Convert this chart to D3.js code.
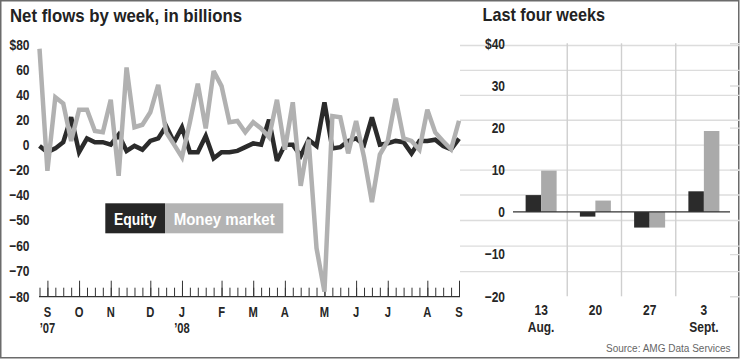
<!DOCTYPE html>
<html>
<head>
<meta charset="utf-8">
<script src="https://cdn.jsdelivr.net/npm/d3@7"></script>
<style>
  html, body { margin: 0; padding: 0; background: #fff; }
  svg { display: block; }
  .cond { font-family: "Liberation Sans", Arial, Helvetica, sans-serif; font-weight: bold; }
</style>
</head>
<body>
<svg id="chart" width="740" height="360"></svg>
<script>
// ---------- DATA ----------
// Weekly net flows (billions of dollars), Aug 29 2007 .. Sep 3 2008
const equity = [-1, -6, -3, 2, 22, -6, 5, 2, 2, 0,
                8, -5, -1, -4, 3, 5, 15, 2, 14, -6,
                -6, 7, -11, -6, -6, -5, -2, 1, 0, 20,
                -13, 0, 0, -9, 4, -1, 34, -3, -2, 3,
                5, 0, 22, 0, 1, 3, 2, -7, 3, 3,
                4, -1.1, -3.7, 4.9];
const moneyMarket = [77, -21, 38, 33, 3, 28, 28, 11, 10, 36,
                     -25, 62, 14, 16, 26, 48, 10, 0, -10, 18,
                     49, 13, 59, 47, 18, 19, 10, 18, 13, 6,
                     36, -4, 34, -33, 4, -61, -78, 23, 22, -7,
                     19, -10, -43, -8, 3, 37, 5, 3, -4, 28,
                     9.8, 2.7, -3.7, 19.2];
const monthLabels = ["S", "O", "N", "D", "J", "F", "M", "A", "M", "J", "J", "A", "S"];
const monthWeekIndex = [1, 5, 9, 14, 18, 23, 27, 31, 36, 40, 44, 49, 53];
const yearLabels = [{ month: 0, text: "\u201907" }, { month: 4, text: "\u201908" }];
const leftTicks = [80, 60, 40, 20, 0, -20, -40, -50, -60, -70, -80];

const recentWeeks = ["13", "20", "27", "3"];
const recentMonths = ["Aug.", "", "", "Sept."];
const recentEquity = [4.0, -1.1, -3.7, 4.9];
const recentMoney = [9.8, 2.7, -3.7, 19.2];
const rightTicks = [40, 30, 20, 10, 0, -10, -20];

const seriesNames = ["Equity", "Money market"];
const seriesColors = ["#2b2b2b", "#b1b1b1"];

// ---------- SETUP ----------
const svg = d3.select("#chart");
const SX = 0.8; // horizontal condensing of the bold face

function condText(parent, x, y, txt, size, anchor, fill, cls) {
  return parent.append("text").attr("class", "cond " + (cls || ""))
    .attr("transform", `translate(${x},${y}) scale(${SX},1)`)
    .attr("text-anchor", anchor || "start").attr("font-size", size)
    .attr("fill", fill || "#262626").text(txt);
}

svg.append("rect").attr("x", 0.75).attr("y", 0.75).attr("width", 738).attr("height", 357)
  .attr("fill", "#fff").attr("stroke", "#6b6b6b").attr("stroke-width", 1.5);

// Titles
svg.append("text").attr("class", "cond").attr("x", 10).attr("y", 21.5)
  .attr("font-size", 18.5).attr("fill", "#222")
  .attr("textLength", 232).attr("lengthAdjust", "spacingAndGlyphs")
  .text("Net flows by week, in billions");
svg.append("text").attr("class", "cond").attr("x", 482.5).attr("y", 20.7)
  .attr("font-size", 18.5).attr("fill", "#222")
  .attr("textLength", 122.5).attr("lengthAdjust", "spacingAndGlyphs")
  .text("Last four weeks");

// ---------- LEFT CHART ----------
const xL = d3.scaleLinear().domain([0, equity.length - 1]).range([39.5, 459]);
// Axis labels are evenly spaced: 20 per step above -40, 10 per step below
const yL = d3.scaleLinear().domain([-80, -40, 80]).range([296.7, 194.5, 45]);
const left = svg.append("g");

// gridlines
left.append("g").attr("transform", "translate(460,0)")
  .call(d3.axisLeft(yL).tickValues(leftTicks.filter(d => d !== -80)).tickSize(-(460 - 39)).tickFormat(""))
  .call(g => g.select(".domain").remove())
  .call(g => g.selectAll("line").attr("stroke", "#dcdcdc").attr("stroke-width", 1.4));

// y labels
left.append("g").attr("transform", "translate(29.5,0)")
  .call(d3.axisLeft(yL).tickValues(leftTicks).tickSize(0).tickPadding(0)
    .tickFormat(d => d === 80 ? "$80" : d3.format("d")(d)))
  .call(g => g.select(".domain").remove())
  .call(g => g.selectAll("text").attr("class", "cond").attr("font-size", 15)
    .attr("fill", "#262626").attr("transform", `scale(${SX},1)`));

// bottom axis with weekly ticks
const baseY = 296.7;
left.append("g").attr("transform", `translate(0,${baseY})`)
  .call(d3.axisBottom(xL).tickValues(d3.range(equity.length)).tickSize(-9).tickFormat(""))
  .call(g => g.select(".domain").remove())
  .call(g => g.selectAll("line").attr("stroke", "#333").attr("stroke-width", 1));
left.append("g").attr("transform", `translate(0,${baseY})`)
  .call(d3.axisBottom(xL).tickValues(monthWeekIndex).tickSize(-16).tickFormat(""))
  .call(g => g.select(".domain").remove())
  .call(g => g.selectAll("line").attr("stroke", "#333").attr("stroke-width", 1));
left.append("line").attr("x1", 39).attr("x2", 460).attr("y1", baseY).attr("y2", baseY)
  .attr("stroke", "#333").attr("stroke-width", 1.2);

monthLabels.forEach((m, i) => condText(left, xL(monthWeekIndex[i]), 316.7, m, 14, "middle"));
yearLabels.forEach(d => condText(left, xL(monthWeekIndex[d.month]), 332.7, d.text, 14, "middle"));

// lines
const line = d3.line().x((d, i) => xL(i)).y(d => yL(d));
[equity, moneyMarket].forEach((s, k) => {
  left.append("path").datum(s).attr("d", line).attr("fill", "none")
    .attr("stroke", seriesColors[k]).attr("stroke-width", 4.5)
    .attr("stroke-linejoin", "miter").attr("stroke-miterlimit", 3);
});

// legend
const legendX = [105.3, 165, 283.3];
const legendTextW = [42.5, 101];
seriesNames.forEach((name, k) => {
  left.append("rect").attr("x", legendX[k]).attr("y", 203.3)
    .attr("width", legendX[k + 1] - legendX[k]).attr("height", 30)
    .attr("fill", k === 0 ? "#262626" : "#b3b3b3");
  const cx = (legendX[k] + legendX[k + 1]) / 2;
  left.append("text").attr("class", "cond")
    .attr("x", cx - legendTextW[k] / 2).attr("y", 224.8)
    .attr("font-size", 16.5).attr("fill", "#fff")
    .attr("textLength", legendTextW[k]).attr("lengthAdjust", "spacingAndGlyphs")
    .text(name);
});

// ---------- RIGHT CHART ----------
const xR = d3.scaleBand().domain(recentWeeks).range([513, 730]).paddingInner(0).paddingOuter(0);
const yR = d3.scaleLinear().domain([-20, 40]).range([296.3, 43.3]);
const barW = 15.5;
const xSub = d3.scaleBand().domain(seriesNames)
  .range([xR.bandwidth() / 2 - barW + 1, xR.bandwidth() / 2 + barW + 1]);
const right = svg.append("g");

right.append("g").attr("transform", "translate(730,0)")
  .call(d3.axisLeft(yR).tickValues(rightTicks.filter(d => d !== 0)).tickSize(-(730 - 513)).tickFormat(""))
  .call(g => g.select(".domain").remove())
  .call(g => g.selectAll("line").attr("stroke", "#dcdcdc").attr("stroke-width", 1.4));

// vertical separators between weeks
right.selectAll("line.sep").data(recentWeeks.slice(1)).join("line")
  .attr("class", "sep").attr("x1", d => xR(d)).attr("x2", d => xR(d))
  .attr("y1", yR(40)).attr("y2", yR(-20)).attr("stroke", "#cfcfcf").attr("stroke-width", 1.4);

right.append("g").attr("transform", "translate(505,0)")
  .call(d3.axisLeft(yR).tickValues(rightTicks).tickSize(0).tickPadding(0)
    .tickFormat(d => d === 40 ? "$40" : d3.format("d")(d)))
  .call(g => g.select(".domain").remove())
  .call(g => g.selectAll("text").attr("class", "cond").attr("font-size", 15)
    .attr("fill", "#262626").attr("transform", `scale(${SX},1)`));

const barData = recentWeeks.flatMap((w, i) => [
  { week: w, series: seriesNames[0], value: recentEquity[i], color: seriesColors[0] },
  { week: w, series: seriesNames[1], value: recentMoney[i], color: "#aaaaaa" }
]);
right.selectAll("rect.bar").data(barData).join("rect")
  .attr("class", "bar")
  .attr("x", d => xR(d.week) + xSub(d.series))
  .attr("width", xSub.bandwidth())
  .attr("y", d => yR(Math.max(0, d.value)))
  .attr("height", d => Math.abs(yR(d.value) - yR(0)))
  .attr("fill", d => d.color);

right.append("line").attr("x1", 513).attr("x2", 730).attr("y1", yR(0)).attr("y2", yR(0))
  .attr("stroke", "#333").attr("stroke-width", 1.3);

recentWeeks.forEach((w, i) => {
  const cx = xR(w) + xR.bandwidth() / 2 + 1;
  condText(right, cx, 315, w, 15, "middle");
  if (recentMonths[i]) condText(right, cx, 331.7, recentMonths[i], 15, "middle");
});

svg.append("text").attr("x", 730.5).attr("y", 351.5).attr("text-anchor", "end")
  .attr("font-family", "'Liberation Sans', Arial, sans-serif").attr("font-size", 10)
  .attr("fill", "#666").text("Source: AMG Data Services");
</script>
</body>
</html>
